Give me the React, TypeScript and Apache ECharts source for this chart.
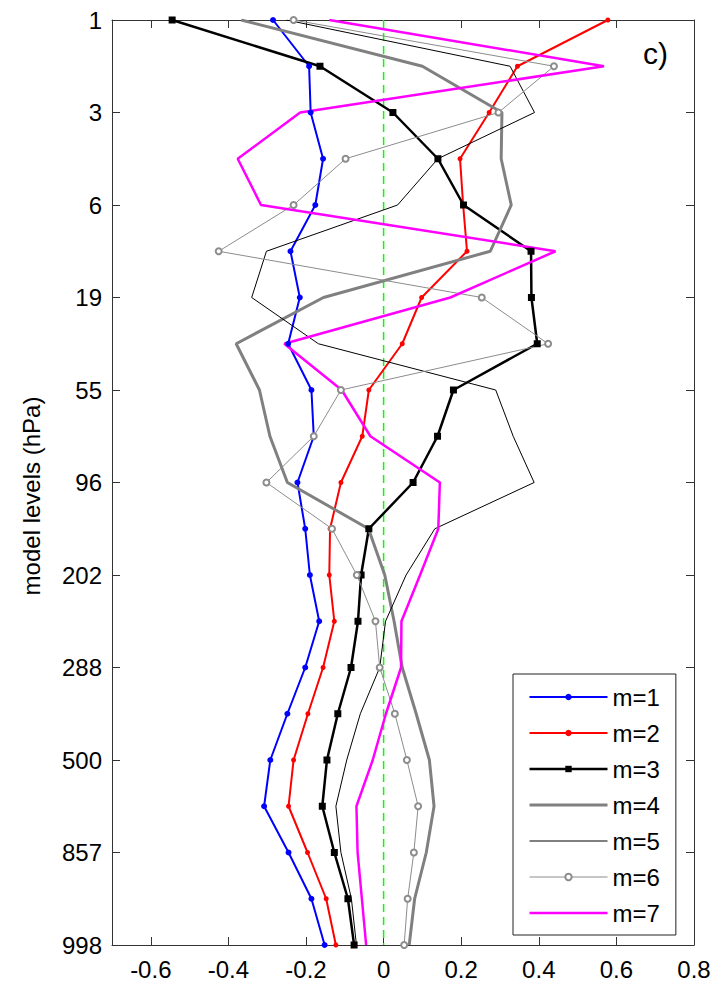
import React, { useEffect, useRef } from "react";
import * as echarts from "echarts";

// model level index (0 = top level "1 hPa", 20 = bottom level "998 hPa")
const levelIndex = [0, 1, 2, 3, 4, 5, 6, 7, 8, 9, 10, 11, 12, 13, 14, 15, 16, 17, 18, 19, 20];
// tick labels shown at every other level
const levelLabels = ["1", "3", "6", "19", "55", "96", "202", "288", "500", "857", "998"];
const xTickValues = [-0.6, -0.4, -0.2, 0, 0.2, 0.4, 0.6, 0.8];
const seriesNames = ["m=1", "m=2", "m=3", "m=4", "m=5", "m=6", "m=7"];
// zero reference line (x = 0 from top level to bottom level)
const zeroLineX = [0, 0];
const zeroLineLevels = [0, 20];

const m1 = [-0.285, -0.192, -0.188, -0.156, -0.176, -0.24, -0.216, -0.246, -0.186, -0.18, -0.222, -0.202, -0.19, -0.166, -0.202, -0.248, -0.292, -0.308, -0.245, -0.186, -0.152];
const m2 = [0.578, 0.345, 0.272, 0.197, 0.205, 0.215, 0.098, 0.048, -0.038, -0.055, -0.11, -0.138, -0.14, -0.127, -0.156, -0.195, -0.232, -0.245, -0.196, -0.148, -0.123];
const m3 = [-0.545, -0.164, 0.024, 0.14, 0.206, 0.38, 0.381, 0.396, 0.18, 0.139, 0.076, -0.038, -0.058, -0.066, -0.084, -0.118, -0.146, -0.158, -0.127, -0.092, -0.076];
const m4 = [-0.367, 0.1, 0.305, 0.303, 0.329, 0.275, -0.155, -0.38, -0.32, -0.293, -0.248, -0.039, 0.003, 0.027, 0.048, 0.084, 0.118, 0.13, 0.11, 0.08, 0.066];
const m5 = [-0.25, 0.326, 0.389, 0.14, 0.036, -0.302, -0.34, -0.168, 0.289, 0.334, 0.388, 0.132, 0.058, 0.005, -0.01, -0.06, -0.095, -0.123, -0.11, -0.083, -0.07];
const m6 = [-0.232, 0.439, 0.296, -0.098, -0.232, -0.425, 0.253, 0.424, -0.11, -0.18, -0.302, -0.133, -0.069, -0.021, -0.01, 0.029, 0.06, 0.089, 0.078, 0.062, 0.053];
const m7 = [-0.14, 0.568, -0.215, -0.376, -0.316, 0.443, 0.172, -0.256, -0.108, -0.034, 0.145, 0.141, 0.094, 0.046, 0.045, 0.006, -0.028, -0.07, -0.067, -0.056, -0.045];

const FONT = "'Liberation Sans', Arial, Helvetica, sans-serif";
const AXIS_COLOR = "#333";

function pairs(vals: number[]) {
  return vals.map((v, i) => [v, levelIndex[i]]);
}

export default function App() {
  const ref = useRef<HTMLDivElement>(null);

  useEffect(() => {
    if (!ref.current) return;
    const chart = echarts.init(ref.current, null, { renderer: "svg" });

    const axisLine = { show: true, onZero: false, lineStyle: { color: AXIS_COLOR, width: 1 } };
    const xTickCommon = {
      show: true,
      inside: true,
      length: 8,
      lineStyle: { color: AXIS_COLOR, width: 1 },
      customValues: xTickValues,
    };
    const yTickCommon = {
      show: true,
      inside: true,
      length: 8,
      lineStyle: { color: AXIS_COLOR, width: 1 },
    };

    const styles: Record<string, { color: string; width: number; symbol: string; size?: number }> = {
      "m=1": { color: "#0000ff", width: 2, symbol: "circle", size: 6 },
      "m=2": { color: "#ff0000", width: 2, symbol: "circle", size: 5 },
      "m=3": { color: "#000000", width: 2.5, symbol: "rect", size: 7 },
      "m=4": { color: "#808080", width: 3, symbol: "none" },
      "m=5": { color: "#000000", width: 1, symbol: "none" },
      "m=6": { color: "#8c8c8c", width: 1, symbol: "emptyCircle", size: 6 },
      "m=7": { color: "#ff00ff", width: 2.5, symbol: "none" },
    };
    const values: Record<string, number[]> = {
      "m=1": m1, "m=2": m2, "m=3": m3, "m=4": m4, "m=5": m5, "m=6": m6, "m=7": m7,
    };

    const option: any = {
      animation: false,
      backgroundColor: "#fff",
      grid: { left: 112, right: 29, top: 20, bottom: 38, containLabel: false },
      xAxis: [
        {
          type: "value",
          position: "bottom",
          min: -0.7,
          max: 0.8,
          axisLine,
          axisTick: xTickCommon,
          axisLabel: {
            customValues: xTickValues,
            formatter: (v: number) => (Math.abs(v) < 1e-9 ? "0" : v.toFixed(1)),
            color: "#000",
            fontSize: 24,
            fontFamily: FONT,
            margin: 12,
          },
          splitLine: { show: false },
        },
        {
          type: "value",
          position: "top",
          min: -0.7,
          max: 0.8,
          axisLine,
          axisTick: xTickCommon,
          axisLabel: { show: false },
          splitLine: { show: false },
        },
      ],
      yAxis: [
        {
          type: "value",
          position: "left",
          inverse: true,
          min: 0,
          max: 20,
          interval: 2,
          axisLine,
          axisTick: yTickCommon,
          axisLabel: {
            formatter: (v: number) => levelLabels[Math.round(v / 2)] ?? "",
            color: "#000",
            fontSize: 24,
            fontFamily: FONT,
            margin: 10,
          },
          splitLine: { show: false },
        },
        {
          type: "value",
          position: "right",
          inverse: true,
          min: 0,
          max: 20,
          interval: 2,
          axisLine,
          axisTick: yTickCommon,
          axisLabel: { show: false },
          splitLine: { show: false },
        },
      ],
      legend: {
        orient: "vertical",
        left: 513,
        top: 674,
        padding: [11, 16, 10, 15],
        itemWidth: 78,
        itemHeight: 8,
        itemGap: 12,
        backgroundColor: "#fff",
        borderColor: "#222",
        borderWidth: 1,
        textStyle: { fontSize: 24, fontFamily: FONT, color: "#000" },
        data: seriesNames.map((n) => {
          const s = styles[n];
          const item: any = { name: n, lineStyle: { width: s.width, color: s.color } };
          if (s.symbol === "none") item.itemStyle = { opacity: 0 };
          return item;
        }),
      },
      graphic: [
        {
          type: "text",
          x: 31,
          y: 496,
          rotation: Math.PI / 2,
          style: {
            text: "model levels (hPa)",
            font: `24px ${FONT}`,
            fill: "#000",
            textAlign: "center",
            textVerticalAlign: "middle",
          },
        },
        {
          type: "text",
          x: 643,
          y: 38,
          style: {
            text: "c)",
            font: `30px ${FONT}`,
            fill: "#000",
            textAlign: "left",
            textVerticalAlign: "top",
          },
        },
      ],
      series: [
        {
          name: "zero",
          type: "line",
          data: zeroLineX.map((v, i) => [v, zeroLineLevels[i]]),
          symbol: "none",
          silent: true,
          lineStyle: { color: "#00ff00", width: 1.5, type: [8, 5] },
          itemStyle: { color: "#00ff00" },
          z: 1,
        },
        ...seriesNames.map((n) => {
          const s = styles[n];
          const ser: any = {
            name: n,
            type: "line",
            data: pairs(values[n]),
            symbol: s.symbol,
            lineStyle: { color: s.color, width: s.width },
            itemStyle: { color: s.color },
            z: 3,
          };
          if (s.size) ser.symbolSize = s.size;
          if (s.symbol === "emptyCircle") ser.itemStyle.borderWidth = 1;
          return ser;
        }),
      ],
    };

    chart.setOption(option);
    return () => chart.dispose();
  }, []);

  return (
    <div
      ref={ref}
      style={{ position: "fixed", left: 0, top: 0, width: 723, height: 983, background: "#fff" }}
    />
  );
}
